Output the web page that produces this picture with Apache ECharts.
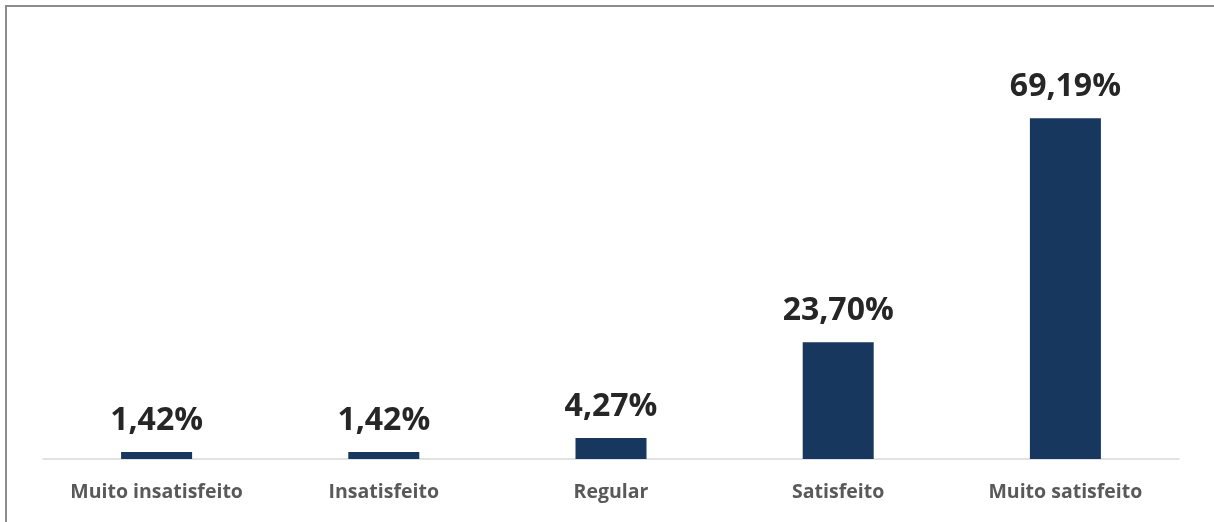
<!DOCTYPE html>
<html><head><meta charset="utf-8">
<script src="https://cdn.jsdelivr.net/npm/echarts@6/dist/echarts.min.js"></script>
<style>
html,body{margin:0;padding:0;background:#fff;}
#frame{position:absolute;left:5px;top:5px;width:1209px;height:517px;border-top:2px solid #8c8c8c;border-left:2px solid #8c8c8c;box-sizing:border-box;}
#c{position:absolute;left:0;top:0;width:1214px;height:522px;}
</style></head>
<body>
<div id="frame"></div>
<div id="c"></div>
<script>
const categories = ["Muito insatisfeito", "Insatisfeito", "Regular", "Satisfeito", "Muito satisfeito"];
const values = [1.42, 1.42, 4.27, 23.70, 69.19];

const chart = echarts.init(document.getElementById('c'), null, {renderer: 'canvas'});
chart.setOption({
  animation: false,
  grid: {left: 43, right: 35, top: 65, bottom: 63},
  xAxis: {
    type: 'category',
    data: categories,
    axisLine: {lineStyle: {color: '#d9d9d9', width: 1.5}},
    axisTick: {show: false},
    axisLabel: {color: '#595959', fontFamily: 'Open Sans', fontWeight: 'bold', fontSize: 19.5, margin: 23}
  },
  yAxis: {type: 'value', min: 0, max: 80, show: false, splitLine: {show: false}},
  series: [{
    type: 'bar',
    data: values,
    barWidth: 71,
    itemStyle: {color: '#17375e'},
    label: {
      show: true, position: 'top', distance: 15,
      formatter: p => p.value.toFixed(2).replace('.', ',') + '%',
      color: '#262626', fontFamily: 'Open Sans', fontWeight: 'bold', fontSize: 32
    }
  }]
});
</script>
</body></html>
